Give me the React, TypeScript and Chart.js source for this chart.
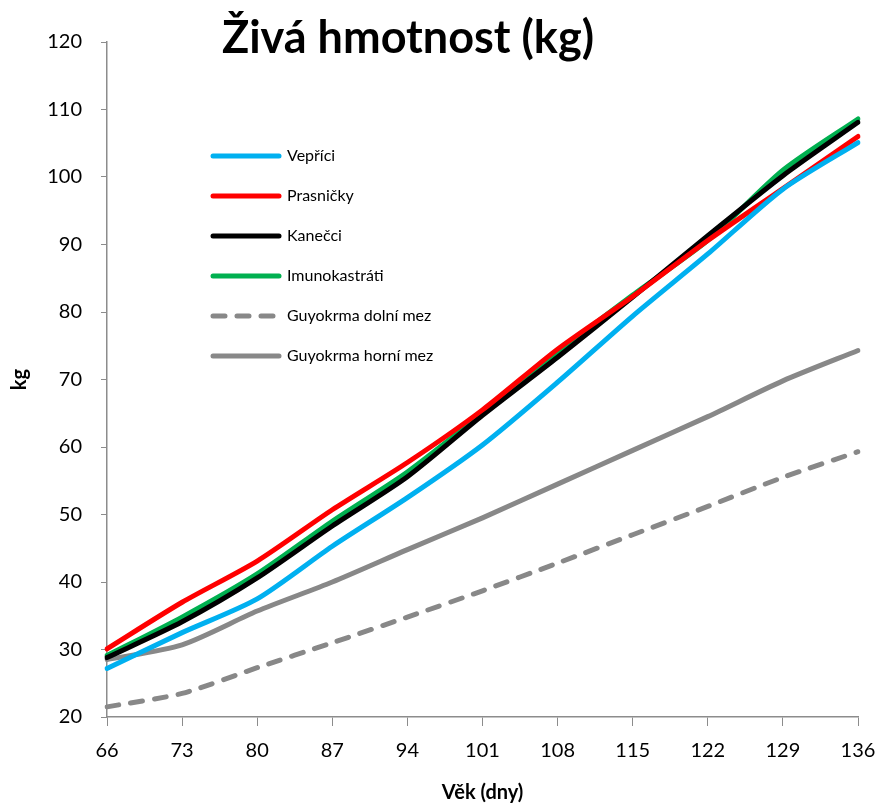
import React, { useEffect, useRef } from "react";
import { Chart, registerables } from "chart.js";

Chart.register(...registerables);

const ages = ["66", "73", "80", "87", "94", "101", "108", "115", "122", "129", "136"];
const vepricí = [27.2, 32.5, 37.5, 45.3, 52.5, 60.3, 69.6, 79.4, 88.6, 98.2, 105.1];
const prasnicky = [30.1, 37.0, 43.1, 50.7, 57.7, 65.5, 74.5, 82.3, 90.6, 98.3, 106.0];
const kanecci = [28.8, 34.1, 40.6, 48.3, 55.6, 64.7, 73.3, 82.2, 91.3, 100.2, 108.1];
const imunokastrati = [29.1, 34.8, 41.2, 49.0, 56.3, 65.0, 74.0, 82.5, 90.6, 101.0, 108.6];
const dolniMez = [21.5, 23.5, 27.3, 31.0, 34.8, 38.7, 42.8, 47.0, 51.2, 55.5, 59.3];
const horniMez = [28.5, 30.7, 35.7, 40.0, 44.8, 49.5, 54.5, 59.5, 64.5, 69.8, 74.3];
const yTicks = [20, 30, 40, 50, 60, 70, 80, 90, 100, 110, 120];

const FONT = "Lato, 'Open Sans', sans-serif";
const AXIS_GRAY = "#8c8c8c";

const overlayPlugin = {
  id: "overlay",
  afterDraw(chart: any) {
    const ctx = chart.ctx as CanvasRenderingContext2D;
    ctx.save();
    // Title
    ctx.fillStyle = "#000";
    ctx.font = `bold 45px ${FONT}`;
    ctx.textAlign = "center";
    ctx.textBaseline = "middle";
    ctx.fillText("Živá hmotnost (kg)", 400, 30);
    // Legend
    ctx.font = `16px ${FONT}`;
    ctx.textAlign = "left";
    chart.data.datasets.forEach((ds: any, i: number) => {
      const y = 148 + i * 40;
      ctx.beginPath();
      ctx.strokeStyle = ds.borderColor;
      ctx.lineWidth = ds.borderWidth;
      ctx.lineCap = "round";
      ctx.setLineDash(ds.borderDash || []);
      ctx.moveTo(205, y);
      ctx.lineTo(271, y);
      ctx.stroke();
      ctx.setLineDash([]);
      ctx.fillStyle = "#000";
      ctx.fillText(ds.label, 279, y);
    });
    ctx.restore();
  },
};

export default function App() {
  const ref = useRef<HTMLCanvasElement>(null);
  useEffect(() => {
    document.body.style.overflow = "hidden";
    document.documentElement.style.overflow = "hidden";
    if (!ref.current) return;
    const mk = (label: string, data: number[], color: string, width: number, dash?: number[]) => ({
      label,
      data,
      borderColor: color,
      backgroundColor: color,
      borderWidth: width,
      borderDash: dash,
      borderCapStyle: "round" as const,
      borderJoinStyle: "round" as const,
      pointRadius: 0,
      tension: 0.25,
      fill: false,
    });
    const chart = new Chart(ref.current, {
      type: "line",
      data: {
        labels: ages,
        datasets: [
          mk("Vepříci", vepricí, "#00B0F0", 5),
          mk("Prasničky", prasnicky, "#FF0000", 5),
          mk("Kanečci", kanecci, "#000000", 5),
          mk("Imunokastráti", imunokastrati, "#00B050", 5),
          mk("Guyokrma dolní mez", dolniMez, "#888888", 5, [12, 12]),
          mk("Guyokrma horní mez", horniMez, "#888888", 5),
        ],
      },
      options: {
        animation: false,
        responsive: true,
        maintainAspectRatio: false,
        layout: { padding: { top: 34, right: 17, left: 0, bottom: 0 } },
        plugins: { legend: { display: false }, title: { display: false }, tooltip: { enabled: false } },
        scales: {
          x: {
            type: "category",
            offset: false,
            grid: { display: true, drawOnChartArea: false, drawTicks: true, tickLength: 9, color: AXIS_GRAY, offset: false },
            border: { display: true, color: AXIS_GRAY, width: 1.5 },
            ticks: { color: "#000", font: { family: FONT, size: 20 }, padding: 13, maxRotation: 0, autoSkip: false },
            title: { display: true, text: "Věk (dny)", color: "#000", font: { family: FONT, size: 20, weight: "bold" }, padding: { top: 0, bottom: 1 } },
            afterFit(scale: any) {
              scale.height = 89;
              scale.paddingRight = 0;
              scale.paddingLeft = 0;
            },
          },
          y: {
            min: 20,
            max: 120,
            afterBuildTicks(scale: any) { scale.ticks = yTicks.map((v) => ({ value: v })); },
            grid: { display: true, drawOnChartArea: false, drawTicks: true, tickLength: 6, color: AXIS_GRAY },
            border: { display: true, color: AXIS_GRAY, width: 1.5 },
            ticks: { color: "#000", font: { family: FONT, size: 20 }, padding: 19 },
            title: { display: true, text: "kg", color: "#000", font: { family: FONT, size: 20, weight: "bold" }, padding: { top: 0, bottom: 0 } },
            afterFit(scale: any) { scale.width = 99; },
          },
        },
      },
      plugins: [overlayPlugin],
    });
    return () => chart.destroy();
  }, []);
  return (
    <div style={{ width: 867, height: 798, position: "relative" }}>
      <canvas ref={ref} />
    </div>
  );
}
